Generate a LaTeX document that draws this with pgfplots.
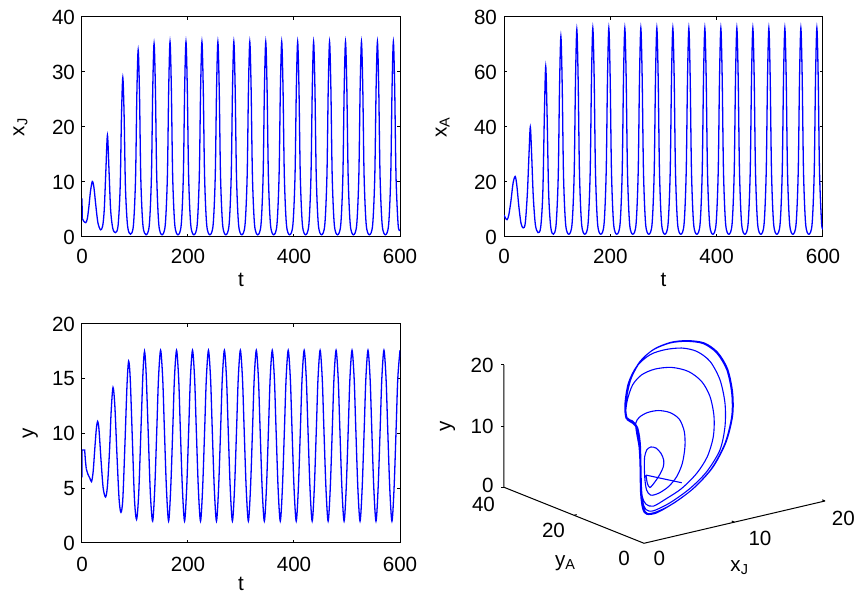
\documentclass[border=0pt]{standalone}
\usepackage{fontspec}
\setmainfont{Liberation Sans}
\usepackage{pgfplots}
\pgfplotsset{compat=1.18}
\definecolor{mblue}{RGB}{0,0,255}
\newcommand\tickfont{\fontsize{10.3}{12}\selectfont}
\pgfplotsset{
  tsax/.style={
    scale only axis, anchor=south west,
    xmin=0, xmax=600, xtick={0,200,400,600},
    axis line style={line width=0.5pt},
    every tick/.style={black, line width=0.5pt},
    major tick length=1.5pt,
    tick label style={font=\tickfont},
    /pgf/number format/assume math mode=true,
    label style={font=\tickfont},
    xticklabel style={yshift=-2.7pt},
    xlabel style={at={(axis description cs:0.5,-0.227)}, anchor=base},
  },
  ts/.style={mblue, line width=0.65pt, no markers},
}
\begin{document}
\begin{tikzpicture}
\path[use as bounding box] (0,0) rectangle (432pt,298.5pt);

% x_J against t
\begin{axis}[tsax, at={(41pt,180pt)}, width=159pt, height=110pt,
  ymin=0, ymax=40, ytick={0,10,20,30,40},
  xlabel={t}, ylabel={x\textsubscript{J}},
  ylabel style={at={(axis description cs:-0.1815,0.5)}, anchor=base}]
\addplot[ts, sharp plot] coordinates {(0,7) (0.5,3.4)};
\addplot[ts, smooth] coordinates {
(0.5,3.4) (3,2.9) (7,2.6) (10,3.3) (13,5.5) (16,8.3) (19.5,10.1) (22.5,9) (26,5.8) (30,2.6) (35,1.3)
(39,2.0) (42,5) (45,12) (48,18.5) (51,12) (54,5) (58,1.6) (63,0.8)
(68,2.0) (72,9) (74.5,22) (77,29) (79.5,22) (82,9) (86,2) (91.5,0.5)
(97,2.1) (101,10.5) (103.5,26) (106,34) (108.5,26) (111,10.5) (115,2.1) (121,0.4)
(127,2.2) (131,11) (133.5,27) (136,35.2) (138.5,27) (141,11) (145,2.2) (151,0.4)
(157.1,2.2) (161.1,11) (163.6,27) (166.1,35.5) (168.6,27) (171.1,11) (175.1,2.2) (181.1,0.4)
(187.2,2.2) (191.2,11) (193.7,27) (196.2,35.5) (198.7,27) (201.2,11) (205.2,2.2) (211.2,0.4)
(217.3,2.2) (221.3,11) (223.8,27) (226.3,35.5) (228.8,27) (231.3,11) (235.3,2.2) (241.3,0.4)
(247.4,2.2) (251.4,11) (253.9,27) (256.4,35.5) (258.9,27) (261.4,11) (265.4,2.2) (271.4,0.4)
(277.5,2.2) (281.5,11) (284,27) (286.5,35.5) (289,27) (291.5,11) (295.5,2.2) (301.5,0.4)
(307.6,2.2) (311.6,11) (314.1,27) (316.6,35.5) (319.1,27) (321.6,11) (325.6,2.2) (331.6,0.4)
(337.7,2.2) (341.7,11) (344.2,27) (346.7,35.5) (349.2,27) (351.7,11) (355.7,2.2) (361.7,0.4)
(367.8,2.2) (371.8,11) (374.3,27) (376.8,35.5) (379.3,27) (381.8,11) (385.8,2.2) (391.8,0.4)
(397.9,2.2) (401.9,11) (404.4,27) (406.9,35.5) (409.4,27) (411.9,11) (415.9,2.2) (421.9,0.4)
(428,2.2) (432,11) (434.5,27) (437,35.5) (439.5,27) (442,11) (446,2.2) (452,0.4)
(458.1,2.2) (462.1,11) (464.6,27) (467.1,35.5) (469.6,27) (472.1,11) (476.1,2.2) (482.1,0.4)
(488.2,2.2) (492.2,11) (494.7,27) (497.2,35.5) (499.7,27) (502.2,11) (506.2,2.2) (512.2,0.4)
(518.3,2.2) (522.3,11) (524.8,27) (527.3,35.5) (529.8,27) (532.3,11) (536.3,2.2) (542.3,0.4)
(548.4,2.2) (552.4,11) (554.9,27) (557.4,35.5) (559.9,27) (562.4,11) (566.4,2.2) (572.4,0.4)
(578.5,2.2) (582.5,11) (585,27) (587.5,35.5) (590,27) (592.5,11) (596.5,2.2) (600,1.2)
};
\end{axis}

% x_A against t
\begin{axis}[tsax, at={(252pt,180pt)}, width=159.5pt, height=110pt,
  ymin=0, ymax=80, ytick={0,20,40,60,80},
  xlabel={t}, ylabel={x\textsubscript{A}},
  ylabel style={at={(axis description cs:-0.18,0.5)}, anchor=base}]
\addplot[ts, smooth] coordinates {
(0,8) (3,6.8) (6,6.3) (9,8) (13,13) (17,19.5) (21,22) (24,19) (28,11) (32,5) (36,3.3)
(40,5) (44,16) (47,30) (49.5,40) (52,30) (55,15) (59,4.5) (64,1.6)
(69,3.5) (73,16) (76,45) (78.5,62) (81,45) (84,16) (88,3.5) (93,1)
(98,4.5) (102,22) (104.5,55) (107,73) (109.5,55) (112,22) (116,4.5) (122,1)
(128,4.7) (132,23) (134.5,57) (137,75.5) (139.5,57) (142,23) (146,4.7) (152,1)
(158.1,4.7) (162.1,23.5) (164.6,58) (167.1,76) (169.6,58) (172.1,23.5) (176.1,4.7) (182.1,1)
(188.2,4.7) (192.2,23.5) (194.7,58) (197.2,76) (199.7,58) (202.2,23.5) (206.2,4.7) (212.2,1)
(218.3,4.7) (222.3,23.5) (224.8,58) (227.3,76) (229.8,58) (232.3,23.5) (236.3,4.7) (242.3,1)
(248.4,4.7) (252.4,23.5) (254.9,58) (257.4,76) (259.9,58) (262.4,23.5) (266.4,4.7) (272.4,1)
(278.5,4.7) (282.5,23.5) (285,58) (287.5,76) (290,58) (292.5,23.5) (296.5,4.7) (302.5,1)
(308.6,4.7) (312.6,23.5) (315.1,58) (317.6,76) (320.1,58) (322.6,23.5) (326.6,4.7) (332.6,1)
(338.7,4.7) (342.7,23.5) (345.2,58) (347.7,76) (350.2,58) (352.7,23.5) (356.7,4.7) (362.7,1)
(368.8,4.7) (372.8,23.5) (375.3,58) (377.8,76) (380.3,58) (382.8,23.5) (386.8,4.7) (392.8,1)
(398.9,4.7) (402.9,23.5) (405.4,58) (407.9,76) (410.4,58) (412.9,23.5) (416.9,4.7) (422.9,1)
(429,4.7) (433,23.5) (435.5,58) (438,76) (440.5,58) (443,23.5) (447,4.7) (453,1)
(459.1,4.7) (463.1,23.5) (465.6,58) (468.1,76) (470.6,58) (473.1,23.5) (477.1,4.7) (483.1,1)
(489.2,4.7) (493.2,23.5) (495.7,58) (498.2,76) (500.7,58) (503.2,23.5) (507.2,4.7) (513.2,1)
(519.3,4.7) (523.3,23.5) (525.8,58) (528.3,76) (530.8,58) (533.3,23.5) (537.3,4.7) (543.3,1)
(549.4,4.7) (553.4,23.5) (555.9,58) (558.4,76) (560.9,58) (563.4,23.5) (567.4,4.7) (573.4,1)
(579.5,4.7) (583.5,23.5) (586,58) (588.5,76) (591,58) (593.5,23.5) (597.5,4.7) (600,3.5)
};
\end{axis}

% y against t
\begin{axis}[tsax, at={(41pt,27pt)}, width=159pt, height=109.5pt,
  ymin=0, ymax=20, ytick={0,5,10,15,20},
  xticklabel style={yshift=-1pt},
  xlabel={t}, ylabel={y},
  xlabel style={at={(axis description cs:0.5,-0.215)}},
  ylabel style={at={(axis description cs:-0.152,0.5)}, anchor=base}]
\addplot[ts, sharp plot] coordinates {(0,6) (0,8.5) (5,8.5) (6.5,7.5) (8,6.8)};
\addplot[ts, smooth] coordinates {
(8,6.8) (11,6.3) (15,5.9) (18,5.6) (21,6.5) (24,8.5) (27,10.4) (29.5,11.1) (32,10.4) (36,7.5) (40,5)
(44.5,4.2) (48,5.2) (52,8.5) (55,12) (58.5,14.2) (62,12.5) (66,8) (70,4) (73.5,2.8) (77,4) (81,9)
(85,14.5) (88,16.6) (91,15) (95,9.5) (99,4) (103,2.15) (107,4.5) (111,10) (115,15.5) (118,17.5)
(121,15.5) (125,10) (129,4.5)
(133.3,2) (137.3,5) (141.3,10.6) (144.3,15) (148.3,17.6) (152.3,15) (155.3,10.6) (159.3,5)
(163.4,2) (167.4,5) (171.4,10.6) (174.4,15) (178.4,17.6) (182.4,15) (185.4,10.6) (189.4,5)
(193.5,2) (197.5,5) (201.5,10.6) (204.5,15) (208.5,17.6) (212.5,15) (215.5,10.6) (219.5,5)
(223.6,2) (227.6,5) (231.6,10.6) (234.6,15) (238.6,17.6) (242.6,15) (245.6,10.6) (249.6,5)
(253.7,2) (257.7,5) (261.7,10.6) (264.7,15) (268.7,17.6) (272.7,15) (275.7,10.6) (279.7,5)
(283.8,2) (287.8,5) (291.8,10.6) (294.8,15) (298.8,17.6) (302.8,15) (305.8,10.6) (309.8,5)
(313.9,2) (317.9,5) (321.9,10.6) (324.9,15) (328.9,17.6) (332.9,15) (335.9,10.6) (339.9,5)
(344,2) (348,5) (352,10.6) (355,15) (359,17.6) (363,15) (366,10.6) (370,5)
(374.1,2) (378.1,5) (382.1,10.6) (385.1,15) (389.1,17.6) (393.1,15) (396.1,10.6) (400.1,5)
(404.2,2) (408.2,5) (412.2,10.6) (415.2,15) (419.2,17.6) (423.2,15) (426.2,10.6) (430.2,5)
(434.3,2) (438.3,5) (442.3,10.6) (445.3,15) (449.3,17.6) (453.3,15) (456.3,10.6) (460.3,5)
(464.4,2) (468.4,5) (472.4,10.6) (475.4,15) (479.4,17.6) (483.4,15) (486.4,10.6) (490.4,5)
(494.5,2) (498.5,5) (502.5,10.6) (505.5,15) (509.5,17.6) (513.5,15) (516.5,10.6) (520.5,5)
(524.6,2) (528.6,5) (532.6,10.6) (535.6,15) (539.6,17.6) (543.6,15) (546.6,10.6) (550.6,5)
(554.7,2) (558.7,5) (562.7,10.6) (565.7,15) (569.7,17.6) (573.7,15) (576.7,10.6) (580.7,5)
(584.8,2) (588.8,5) (592.8,10.6) (595.8,15) (600,17.6)
};
\end{axis}

% phase portrait (x_J, y_A, y)
\begin{axis}[at={(322pt,26.85pt)}, anchor=origin,
  x={(4.525pt,1.0575pt)}, y={(-1.75pt,0.7pt)}, z={(0pt,3.0585pt)},
  xmin=0, xmax=20, ymin=0, ymax=40, zmin=0, zmax=20,
  hide axis, clip=false]
\draw[line width=0.5pt] (axis cs:0,40,20) -- (axis cs:0,40,0) -- (axis cs:0,0,0) -- (axis cs:20,0,0);
\draw[line width=0.5pt] (axis cs:0,40,20) -- ++(-1.5pt,0pt);
\draw[line width=0.5pt] (axis cs:0,40,10) -- ++(-1.5pt,0pt);
\draw[line width=0.5pt] (axis cs:0,40,0) -- ++(-1.5pt,0pt);
\draw[line width=0.5pt] (axis cs:0,20,0) -- (axis cs:0.3,20,0);
\draw[line width=0.5pt] (axis cs:10,0,0) -- (axis cs:10,0.8,0);
\draw[line width=0.5pt] (axis cs:20,0,0) -- (axis cs:20,0.8,0);
\node[font=\tickfont, inner sep=1pt, anchor=east, xshift=-4pt] at (axis cs:0,40,20) {20};
\node[font=\tickfont, inner sep=1pt, anchor=east, xshift=-4pt] at (axis cs:0,40,10) {10};
\node[font=\tickfont, inner sep=1pt, anchor=east, xshift=-4pt, yshift=1pt] at (axis cs:0,40,0) {0};
\node[font=\tickfont, inner sep=1pt, xshift=-10.25pt, yshift=-8.5pt] at (axis cs:0,40,0) {40};
\node[font=\tickfont, inner sep=1pt, xshift=-10.25pt, yshift=-7.75pt] at (axis cs:0,20,0) {20};
\node[font=\tickfont, inner sep=1pt, xshift=-10pt, yshift=-7.5pt] at (axis cs:0,0,0) {0};
\node[font=\tickfont, inner sep=1pt, xshift=7.65pt, yshift=-7.5pt] at (axis cs:0,0,0) {0};
\node[font=\tickfont, inner sep=1pt, xshift=12.75pt, yshift=-8pt] at (axis cs:10,0,0) {10};
\node[font=\tickfont, inner sep=1pt, xshift=9.15pt, yshift=-8.65pt] at (axis cs:20,0,0) {20};
\addplot3[mblue, line width=0.55pt, sharp plot] coordinates {(8.13,10.25,4.74) (6.23,15.53,5.44)};
\addplot3[mblue, line width=0.55pt, smooth] coordinates {
(6.23,15.53,5.44) (5.68,13.72,4.68) (5.55,12.64,4.31) (6.34,13.25,4.83) (7.29,14.27,5.53)
(8.09,15.39,6.20) (8.63,16.69,6.81) (8.96,18.31,7.42) (9.02,19.90,7.90) (8.73,20.66,7.99)
(8.22,20.48,7.72) (7.56,19.35,7.11) (6.76,17.38,6.20) (5.77,14.64,4.98) (5.11,12.45,4.07)
(5.00,11.03,3.62) (5.67,10.56,3.77) (6.89,10.85,4.38) (8.24,11.98,5.29) (9.67,14.06,6.50)
(11.15,17.13,8.02) (12.27,20.21,9.39) (12.88,23.20,10.52) (12.74,25.52,11.12) (12.08,27.15,11.31)
(11.16,27.90,11.12) (10.24,27.80,10.70) (9.52,26.98,10.15) (8.81,24.87,9.24) (7.94,21.95,8.02)
(6.72,18.50,6.50) (5.47,15.09,4.98) (4.29,11.57,3.46) (3.98,9.72,2.79) (4.34,8.55,2.61)
(5.86,8.69,3.31) (7.69,9.12,4.22) (9.90,10.55,5.59) (11.94,12.78,7.11) (13.91,16.16,8.94)
(15.51,20.10,10.76) (16.78,24.53,12.58) (17.36,28.42,13.95) (17.21,31.82,14.86) (16.35,34.37,15.23)
(15.06,35.79,15.08) (13.69,36.05,14.56) (12.28,34.99,13.65) (10.75,32.54,12.28) (9.59,30.04,11.06)
(9.19,28.53,10.46) (9.31,27.30,10.15) (9.12,25.47,9.54) (7.96,21.92,8.02) (6.46,17.83,6.20)
(4.97,13.72,4.38) (3.93,10.53,3.01) (3.56,8.65,2.31) (3.97,7.61,2.19) (5.76,7.47,2.92)
(8.27,8.24,4.22) (10.73,9.84,5.74) (13.34,12.79,7.72) (15.50,16.94,9.85) (17.31,21.62,11.98)
(18.77,26.83,14.10) (19.50,31.56,15.78) (19.34,34.96,16.69) (18.55,37.20,16.99) (17.26,38.62,16.84)
(15.82,39.19,16.38) (13.98,38.25,15.32) (12.11,35.78,13.80) (10.32,32.11,11.98) (9.36,29.33,10.76)
(9.30,27.84,10.30) (9.33,26.21,9.85) (8.48,23.25,8.63) (6.46,17.83,6.20) (4.43,12.42,3.77)
(3.41,9.20,2.40) (3.30,7.77,1.94) (4.13,7.06,2.10)
(5.94,6.98,2.86) (8.50,7.89,4.22) (11.34,9.98,6.05) (14.21,13.60,8.33) (16.75,18.25,10.76)
(18.56,22.93,12.89) (20.02,28.13,15.02) (20.61,32.53,16.54) (20.40,35.80,17.39) (19.42,38.02,17.60)
(18.13,39.43,17.45) (16.44,39.84,16.84) (14.61,38.90,15.78) (12.48,36.27,14.10) (10.32,32.11,11.98)
(9.23,29.00,10.61) (9.37,27.74,10.30) (9.20,25.87,9.70) (8.22,22.59,8.33) (6.46,17.83,6.20)
(4.69,13.08,4.07) (3.41,9.20,2.40) (3.25,7.64,1.88) (4.05,6.86,2.00)
(6.04,6.98,2.94) (8.60,7.89,4.30) (11.44,9.98,6.13) (14.31,13.60,8.41) (16.85,18.25,10.84)
(18.66,22.93,12.97) (20.12,28.13,15.10) (20.71,32.53,16.62) (20.50,35.80,17.47) (19.52,38.02,17.68)
(18.23,39.43,17.53) (16.54,39.84,16.92) (14.71,38.90,15.86) (12.58,36.27,14.18) (10.42,32.11,12.06)
(9.33,29.00,10.69) (9.47,27.74,10.38) (9.30,25.87,9.78) (8.32,22.59,8.41) (6.56,17.83,6.28)
(4.79,13.08,4.15) (3.51,9.20,2.48) (3.35,7.64,1.96) (4.15,6.86,2.08) (6.04,6.98,2.94)
};
\end{axis}
\node[font=\tickfont, rotate=90, anchor=base] at (225.4pt,85.5pt) {y};
\node[font=\tickfont, anchor=base west] at (274pt,15.15pt) {y\textsubscript{A}};
\node[font=\tickfont, anchor=base west] at (361.7pt,12.65pt) {x\textsubscript{J}};
\end{tikzpicture}
\end{document}
